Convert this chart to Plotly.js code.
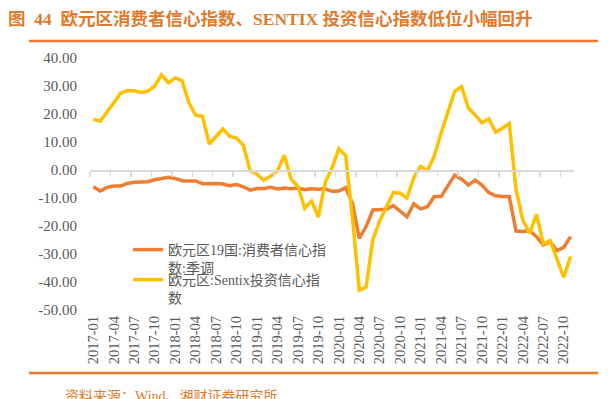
<!DOCTYPE html>
<html>
<head>
<meta charset="utf-8">
<script src="https://cdn.plot.ly/plotly-3.0.1.min.js"></script>
<style>html,body{margin:0;padding:0;background:#fff;}#chart{width:608px;height:399px;}</style>
</head>
<body>
<div id="chart"></div>
<script>
const months = [
 "2017-01","2017-02","2017-03","2017-04","2017-05","2017-06","2017-07","2017-08","2017-09","2017-10","2017-11","2017-12",
 "2018-01","2018-02","2018-03","2018-04","2018-05","2018-06","2018-07","2018-08","2018-09","2018-10","2018-11","2018-12",
 "2019-01","2019-02","2019-03","2019-04","2019-05","2019-06","2019-07","2019-08","2019-09","2019-10","2019-11","2019-12",
 "2020-01","2020-02","2020-03","2020-04","2020-05","2020-06","2020-07","2020-08","2020-09","2020-10","2020-11","2020-12",
 "2021-01","2021-02","2021-03","2021-04","2021-05","2021-06","2021-07","2021-08","2021-09","2021-10","2021-11","2021-12",
 "2022-01","2022-02","2022-03","2022-04","2022-05","2022-06","2022-07","2022-08","2022-09","2022-10","2022-11"
];
// 欧元区19国:消费者信心指数:季调
const consumerConfidence = [
 -6.0,-7.5,-6.2,-5.7,-5.7,-4.8,-4.4,-4.4,-4.2,-3.5,-3.2,-2.6,
 -3.0,-3.8,-3.9,-3.9,-4.9,-4.8,-4.8,-5.0,-5.6,-5.2,-6.0,-7.2,
 -6.6,-6.6,-6.2,-6.8,-6.4,-6.7,-6.4,-7.0,-6.7,-6.9,-6.7,-7.6,
 -7.5,-6.3,-11.9,-24.4,-20.2,-14.3,-14.3,-14.0,-12.7,-14.6,-16.7,-12.1,
 -13.9,-13.1,-9.5,-9.5,-5.5,-1.8,-3.3,-5.4,-3.6,-5.4,-8.1,-9.2,
 -9.5,-9.5,-21.8,-22.0,-21.7,-23.8,-26.8,-25.6,-28.8,-27.6,-23.8
];
// 欧元区:Sentix投资信心指数
const sentix = [
 18.2,17.4,20.7,23.9,27.4,28.4,28.3,27.7,28.2,30.0,34.0,31.1,
 32.9,31.9,24.0,19.6,19.2,9.3,12.1,14.7,12.0,11.4,8.8,-0.3,
 -1.5,-3.7,-2.2,-0.3,5.3,-3.3,-5.8,-13.7,-11.1,-16.8,-4.5,0.7,
 7.6,5.2,-17.1,-42.9,-41.8,-24.8,-18.2,-13.4,-8.0,-8.3,-10.0,-2.7,
 1.3,-0.2,5.0,13.1,21.0,28.1,29.8,22.2,19.6,16.9,18.3,13.5,
 14.9,16.6,-7.0,-18.0,-22.6,-15.8,-26.4,-25.2,-31.8,-38.3,-30.9
];
const seriesNames = ["欧元区19国:消费者信心指<br>数:季调", "欧元区:Sentix投资信心指<br>数"];
const yTickVals = [40,30,20,10,0,-10,-20,-30,-40,-50];
const yTickText = ["40.00","30.00","20.00","10.00","0.00","-10.00","-20.00","-30.00","-40.00","-50.00"];
const titleText = "图  44  欧元区消费者信心指数、SENTIX 投资信心指数低位小幅回升";
const sourceText = "资料来源：Wind、湘财证券研究所";

const serif = "Liberation Serif, Times New Roman, Noto Sans CJK SC, serif";
const grey = "#595959";
const accent = "#E07B2E";

const traces = [
 {x: months, y: consumerConfidence, name: seriesNames[0], type: "scatter", mode: "lines",
  line: {color: "#ED7D31", width: 3.5}, xaxis: "x", yaxis: "y", legend: "legend"},
 {x: months, y: sentix, name: seriesNames[1], type: "scatter", mode: "lines",
  line: {color: "#FFC000", width: 3.5}, xaxis: "x2", yaxis: "y", legend: "legend2"}
];

const legendCommon = {xanchor: "left", yanchor: "top", bgcolor: "rgba(0,0,0,0)", borderwidth: 0,
  valign: "top", font: {family: serif, size: 14, color: grey}};

const layout = {
 width: 608, height: 399,
 margin: {l: 90, r: 34, t: 58, b: 89},
 paper_bgcolor: "#fff", plot_bgcolor: "#fff",
 showlegend: true,
 hovermode: false,
 title: {text: "<b>" + titleText + "</b>", font: {family: serif, size: 17.5, color: accent},
  xref: "container", yref: "container", x: 8/608, xanchor: "left", y: 1 - 19/399, yanchor: "middle"},
 xaxis: {
  type: "category", categoryorder: "array", categoryarray: months,
  range: [-0.5, 70.5], anchor: "free", position: 50/90,
  showline: true, linecolor: "#D9D9D9", linewidth: 1.5,
  ticks: "outside", ticklen: 5, tickcolor: "#D9D9D9", tickwidth: 1.5,
  tickmode: "linear", tick0: 0, dtick: 3, tickson: "boundaries",
  showticklabels: false, showgrid: false, zeroline: false, fixedrange: true
 },
 xaxis2: {
  type: "category", categoryorder: "array", categoryarray: months,
  range: [-0.5, 70.5], overlaying: "x", anchor: "y", side: "bottom",
  showline: false, ticks: "", showgrid: false, zeroline: false,
  tickmode: "linear", tick0: 0, dtick: 3, tickangle: -90,
  tickfont: {family: serif, size: 14.5, color: grey}, ticklabelstandoff: 2, fixedrange: true
 },
 yaxis: {
  range: [-50, 40], tickmode: "array", tickvals: yTickVals, ticktext: yTickText,
  showline: false, showgrid: false, zeroline: false, ticks: "",
  tickfont: {family: serif, size: 15, color: grey}, ticklabelstandoff: 12, fixedrange: true
 },
 legend: Object.assign({x: (128-90)/484, y: (310-234)/252}, legendCommon),
 legend2: Object.assign({x: (128-90)/484, y: (310-264)/252}, legendCommon),
 shapes: [
  {type: "line", xref: "paper", yref: "paper", x0: (29-90)/484, x1: (598-90)/484,
   y0: (310-41)/252, y1: (310-41)/252, line: {color: "#E87A2A", width: 2.5}},
  {type: "line", xref: "paper", yref: "paper", x0: (29-90)/484, x1: (598-90)/484,
   y0: (310-373)/252, y1: (310-373)/252, line: {color: "#E87A2A", width: 2.5}}
 ],
 annotations: [
  {text: sourceText, xref: "paper", yref: "paper", x: (63-90)/484, y: (310-387)/252,
   xanchor: "left", yanchor: "top", showarrow: false,
   font: {family: serif, size: 14, color: accent}}
 ]
};

Plotly.newPlot("chart", traces, layout, {staticPlot: true, displayModeBar: false});
</script>
</body>
</html>
